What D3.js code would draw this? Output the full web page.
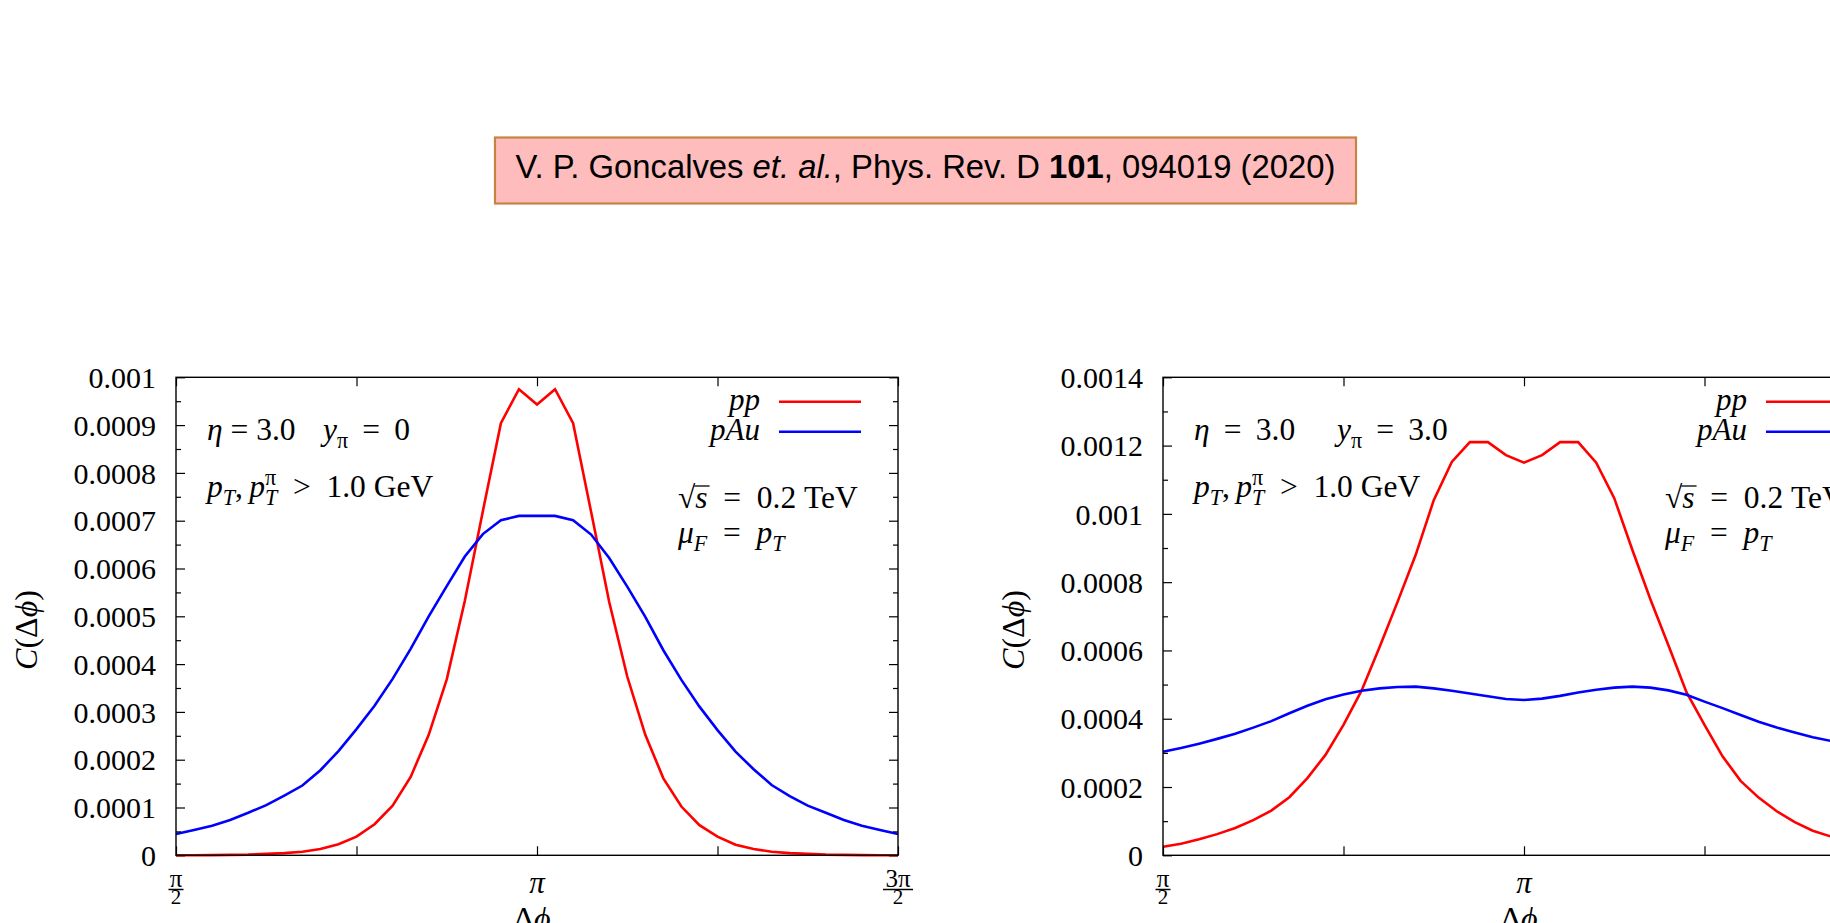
<!DOCTYPE html>
<html><head><meta charset="utf-8">
<script src="https://cdn.jsdelivr.net/npm/d3@7"></script>
<style>
html,body{margin:0;padding:0;background:#fff;overflow:hidden;}
svg{display:block;}
text{font-family:"Liberation Serif","Times New Roman",serif;}
</style></head><body>
<svg id="chart" width="1830" height="923"></svg>
<script>
// ---------------- DATA ----------------
const phi = [1.5708,1.6493,1.7279,1.8064,1.8850,1.9635,2.0420,2.1206,2.1991,2.2777,
             2.3562,2.4347,2.5133,2.5918,2.6704,2.7489,2.8274,2.9060,2.9845,3.0631,
             3.1416,3.2201,3.2987,3.3772,3.4558,3.5343,3.6128,3.6914,3.7699,3.8485,
             3.9270,4.0055,4.0841,4.1626,4.2412,4.3197,4.3982,4.4768,4.5553,4.6339,4.7124];

// Left panel: eta = 3.0, y_pi = 0
const ppLeft = [0.0000001,0.0000002,0.0000004,0.0000008,0.0000014,0.000003,0.0000045,0.0000075,0.000013,0.000023,
                0.000039,0.000065,0.000104,0.000164,0.000252,0.000368,0.000532,0.000720,0.000904,0.000975,
                0.000943,
                0.000975,0.000904,0.000718,0.000530,0.000374,0.000252,0.000161,0.000102,0.000063,0.000039,
                0.000022,0.000013,0.0000075,0.0000045,0.000003,0.0000014,0.0000008,0.0000004,0.0000002,0.0000001];
const pAuLeft = [0.0000446,0.000053,0.000062,0.000074,0.000089,0.000105,0.000125,0.000146,0.000178,0.000218,
                 0.000264,0.000313,0.000369,0.000432,0.000500,0.000563,0.000625,0.000672,0.000701,0.000710,
                 0.000710,
                 0.000710,0.000701,0.000671,0.000622,0.000562,0.000499,0.000429,0.000367,0.000311,0.000262,
                 0.000217,0.000180,0.000147,0.000124,0.000104,0.000089,0.000074,0.000062,0.000053,0.0000446];

// Right panel: eta = 3.0, y_pi = 3.0
const ppRight = [0.000025,0.000034,0.000047,0.000062,0.000080,0.000103,0.000131,0.000170,0.000226,0.000294,
                 0.000382,0.000482,0.000610,0.000743,0.000880,0.001040,0.001152,0.001210,0.001210,0.001172,
                 0.001150,
                 0.001172,0.001210,0.001210,0.001150,0.001046,0.000895,0.000750,0.000615,0.000478,0.000382,
                 0.000290,0.000218,0.000169,0.000129,0.000097,0.000072,0.000055,0.000042,0.000033,0.000025];
const pAuRight = [0.000303,0.000314,0.000327,0.000341,0.000356,0.000374,0.000393,0.000416,0.000438,0.000457,
                  0.000471,0.000482,0.000489,0.000493,0.000494,0.000489,0.000482,0.000474,0.000466,0.000458,
                  0.000455,
                  0.000459,0.000467,0.000477,0.000485,0.000491,0.000494,0.000491,0.000483,0.000470,0.000450,
                  0.000431,0.000411,0.000391,0.000374,0.000360,0.000346,0.000335,0.000324,0.000313,0.000303];

const yMajorLeft = [0,0.0001,0.0002,0.0003,0.0004,0.0005,0.0006,0.0007,0.0008,0.0009,0.001];
const yMinorLeft = [0.00005,0.00015,0.00025,0.00035,0.00045,0.00055,0.00065,0.00075,0.00085,0.00095];
const yMajorRight = [0,0.0002,0.0004,0.0006,0.0008,0.001,0.0012,0.0014];
const yMinorRight = [0.0001,0.0003,0.0005,0.0007,0.0009,0.0011,0.0013];
const xTicks = [Math.PI/2, 3*Math.PI/4, Math.PI, 5*Math.PI/4, 3*Math.PI/2];
const xTickLabelVals = [Math.PI/2, Math.PI, 3*Math.PI/2];
const xTickLabelNum = ["π", "π", "3π"];
const xTickLabelDen = ["2", "", "2"];
const seriesNames = ["pp", "pAu"];
const seriesColors = ["#ff0000", "#0000ff"];
const titleText = ["V. P. Goncalves ", "et. al.", ", Phys. Rev. D ", "101", ", 094019 (2020)"];

// ---------------- DRAW ----------------
const svg = d3.select("#chart");
svg.append("rect").attr("width",1830).attr("height",923).attr("fill","#fff");

// Title box
const tb = svg.append("g");
tb.append("rect").attr("x",495).attr("y",137.5).attr("width",861).attr("height",66)
  .attr("fill","#ffbcbc").attr("stroke","#c68444").attr("stroke-width",2.2);
const tt = tb.append("text").attr("x",925.5).attr("y",177.5).attr("text-anchor","middle")
  .style("font-family","'Liberation Sans',Arial,Helvetica,sans-serif").attr("font-size",32.8).attr("fill","#000");
titleText.forEach((s,i)=>{
  const ts = tt.append("tspan").text(s);
  if (i===1) ts.attr("font-style","italic");
  if (i===3) ts.attr("font-weight","bold");
});

function mathText(parent, x, y, parts, fs, anchor) {
  const t = parent.append("text").attr("x", x).attr("y", y).attr("font-size", fs).attr("fill","#000");
  if (anchor) t.attr("text-anchor", anchor);
  let shift = 0, lastW = 0;
  parts.forEach(([str, kind]) => {
    let target = 0, size = fs;
    if (kind.includes("_")) { target = 0.24*fs; size = 0.7*fs; }
    if (kind.includes("^")) { target = -0.38*fs; size = 0.7*fs; }
    const ts = t.append("tspan").text(str).attr("font-size", size)
      .attr("font-style", kind.includes("i") ? "italic" : "normal");
    if (target - shift !== 0) ts.attr("dy", target - shift);
    if (kind.includes("<")) ts.attr("dx", -lastW);
    shift = target;
    lastW = ts.node().getComputedTextLength();
  });
  return t;
}

const NB = "\u00a0";
const EQ1 = NB + "=" + NB;                       // narrow
const EQM = NB + "\u2009=\u2009" + NB;           // medium
const EQ2 = NB + "\u2005=\u2005" + NB;           // wide
function panel(cfg) {
  const x0 = cfg.x0, x1 = cfg.x0 + 722, yTop = 377.3, yBot = 855.3;
  const g = svg.append("g");
  const x = d3.scaleLinear().domain([Math.PI/2, 3*Math.PI/2]).range([x0, x1]);
  const y = d3.scaleLinear().domain([0, cfg.yMax]).range([yBot, yTop]);
  const fmt = d3.format(".4~f");

  // Curves
  const line = d3.line().x((d,i)=>x(phi[i])).y(d=>y(d));
  [cfg.pp, cfg.pAu].forEach((ser, si) => {
    g.append("path").datum(ser).attr("d", line).attr("fill","none")
      .attr("stroke", seriesColors[si]).attr("stroke-width", 2.6).attr("stroke-linejoin","miter");
  });

  // Axes (ticks inward)
  const axL = g.append("g").attr("transform",`translate(${x0},0)`)
    .call(d3.axisLeft(y).tickValues(cfg.yMajor).tickSize(-9).tickPadding(20).tickFormat(fmt));
  axL.append("g").call(d3.axisLeft(y).tickValues(cfg.yMinor).tickSize(-5).tickFormat(""));
  const axR = g.append("g").attr("transform",`translate(${x1},0)`)
    .call(d3.axisRight(y).tickValues(cfg.yMajor).tickSize(-9).tickFormat(""));
  axR.append("g").call(d3.axisRight(y).tickValues(cfg.yMinor).tickSize(-5).tickFormat(""));
  const axB = g.append("g").attr("transform",`translate(0,${yBot})`)
    .call(d3.axisBottom(x).tickValues(xTicks).tickSize(-9).tickFormat(""));
  const axT = g.append("g").attr("transform",`translate(0,${yTop})`)
    .call(d3.axisTop(x).tickValues(xTicks).tickSize(-9).tickFormat(""));
  [axL, axR, axB, axT].forEach(a => {
    a.selectAll(".domain").remove();
    a.selectAll("line").attr("stroke","#000").attr("stroke-width",1.2);
  });
  axL.selectAll("text").attr("font-size",30).attr("fill","#000")
    .style("font-family","'Liberation Serif',serif").attr("dy","0.34em");

  // Frame
  g.append("rect").attr("x",x0).attr("y",yTop).attr("width",x1-x0).attr("height",yBot-yTop)
    .attr("fill","none").attr("stroke","#000").attr("stroke-width",1.4);

  // X tick labels
  xTickLabelVals.forEach((v,i) => {
    const cx = x(v);
    if (xTickLabelDen[i] === "") {
      g.append("text").attr("x",cx).attr("y",893).attr("text-anchor","middle")
        .attr("font-size",31).attr("font-style","italic").text(xTickLabelNum[i]);
    } else {
      g.append("text").attr("x",cx).attr("y",886.5).attr("text-anchor","middle")
        .attr("font-size",25).text(xTickLabelNum[i]);
      const w = xTickLabelNum[i].length > 1 ? 30 : 15;
      g.append("line").attr("x1",cx-w/2).attr("x2",cx+w/2).attr("y1",889.5).attr("y2",889.5)
        .attr("stroke","#000").attr("stroke-width",1.5);
      g.append("text").attr("x",cx).attr("y",903.5).attr("text-anchor","middle")
        .attr("font-size",21).text(xTickLabelDen[i]);
    }
  });

  // Axis titles
  mathText(g, x0+356, 929, [["Δ","r"],["ϕ","i"]], 32, "middle");
  const yl = mathText(g, 0, 0, [["C","i"],["(Δ","r"],["ϕ","i"],[")","r"]], 32, "middle");
  yl.attr("transform", `translate(${x0-139},630) rotate(-90)`);

  // Legend
  seriesNames.forEach((nm, i) => {
    const ly = 401.7 + i*30;
    g.append("text").attr("x", x0+584).attr("y", ly+8).attr("text-anchor","end")
      .attr("font-size",31).attr("font-style","italic").text(nm);
    g.append("line").attr("x1",x0+603).attr("x2",x0+685).attr("y1",ly).attr("y2",ly)
      .attr("stroke",seriesColors[i]).attr("stroke-width",2.6);
  });

  // Annotations
  const FS = 31.5;
  mathText(g, x0+31, 440, [["η","i"],[cfg.etaEq,"r"],["3.0","r"]], FS);
  mathText(g, x0+cfg.yPiX, 440, [["y","i"],["π","_"],[EQM+cfg.yPiVal,"r"]], FS);
  mathText(g, x0+31, 497, [["p","i"],["T","_i"],[",\u2009","r"],["p","i"],["π","^"],["T","_i<"],[EQ2.replace("=",">")+"1.0"+NB+"GeV","r"]], FS);
  const sq = mathText(g, x0+502, 508, [["√","r"],["s","i"],[EQ2+"0.2"+NB+"TeV","r"]], FS);
  const n = sq.node();
  const sx0 = n.getStartPositionOfChar(1).x, sx1 = n.getEndPositionOfChar(1).x;
  g.append("line").attr("x1", sx0-1).attr("x2", sx1+2).attr("y1", 486).attr("y2", 486)
    .attr("stroke","#000").attr("stroke-width",1.3);
  mathText(g, x0+502, 543, [["μ","i"],["F","_i"],[EQ2,"r"],["p","i"],["T","_i"]], FS);
}

panel({x0:176, yMax:0.001, yMajor:yMajorLeft, yMinor:yMinorLeft, pp:ppLeft, pAu:pAuLeft, yPiX:147, yPiVal:"0", etaEq:EQ1});
panel({x0:1163, yMax:0.0014, yMajor:yMajorRight, yMinor:yMinorRight, pp:ppRight, pAu:pAuRight, yPiX:174, yPiVal:"3.0", etaEq:EQM});
</script>
</body></html>
